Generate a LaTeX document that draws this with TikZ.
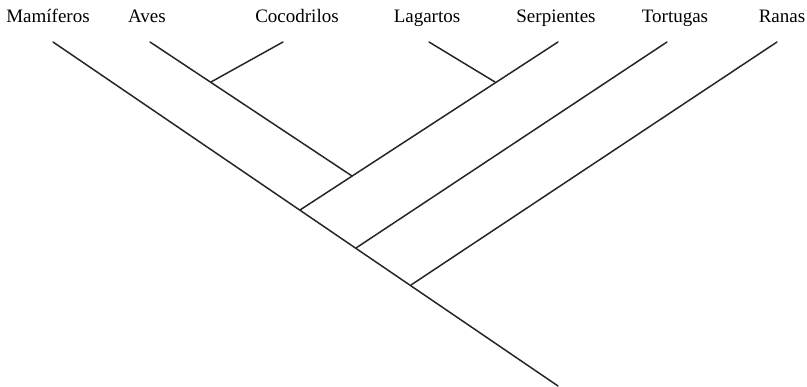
\documentclass[tikz,border=0pt]{standalone}
\usepackage{fontspec}
\setmainfont{Liberation Serif}
\begin{document}
\begin{tikzpicture}[x=1pt,y=-1pt,
  taxon/.style={anchor=base,inner sep=0pt,font=\fontsize{19}{21}\selectfont},
  branch/.style={line width=1.5pt,color=black!85,line cap=round}]
\useasboundingbox (0,0) rectangle (807,387);
% labels
\node[taxon] (mam) at (48,23) {Mamíferos};
\node[taxon] (ave) at (147,23) {Aves};
\node[taxon] (coc) at (297,23) {Cocodrilos};
\node[taxon] (lag) at (427,23) {Lagartos};
\node[taxon] (ser) at (556,23) {Serpientes};
\node[taxon] (tor) at (675,23) {Tortugas};
\node[taxon] (ran) at (782,23) {Ranas};
% tips
\coordinate (tmam) at (53,42);
\coordinate (tave) at (150,42);
\coordinate (tcoc) at (283,42);
\coordinate (tlag) at (429,42);
\coordinate (tser) at (558,42);
\coordinate (ttor) at (667,42);
\coordinate (tran) at (777,42);
% junctions
\coordinate (root) at (558,386);
\coordinate (jac) at (211,82);
\coordinate (jls) at (495,82);
\coordinate (jas) at (352,176);
\coordinate (js) at (300,210);
\coordinate (jt) at (356,248);
\coordinate (jr) at (411,285);
% branches
\draw[branch] (tmam) -- (root);
\draw[branch] (tave) -- (jas);
\draw[branch] (tcoc) -- (jac);
\draw[branch] (tlag) -- (jls);
\draw[branch] (tser) -- (js);
\draw[branch] (ttor) -- (jt);
\draw[branch] (tran) -- (jr);
\end{tikzpicture}
\end{document}
